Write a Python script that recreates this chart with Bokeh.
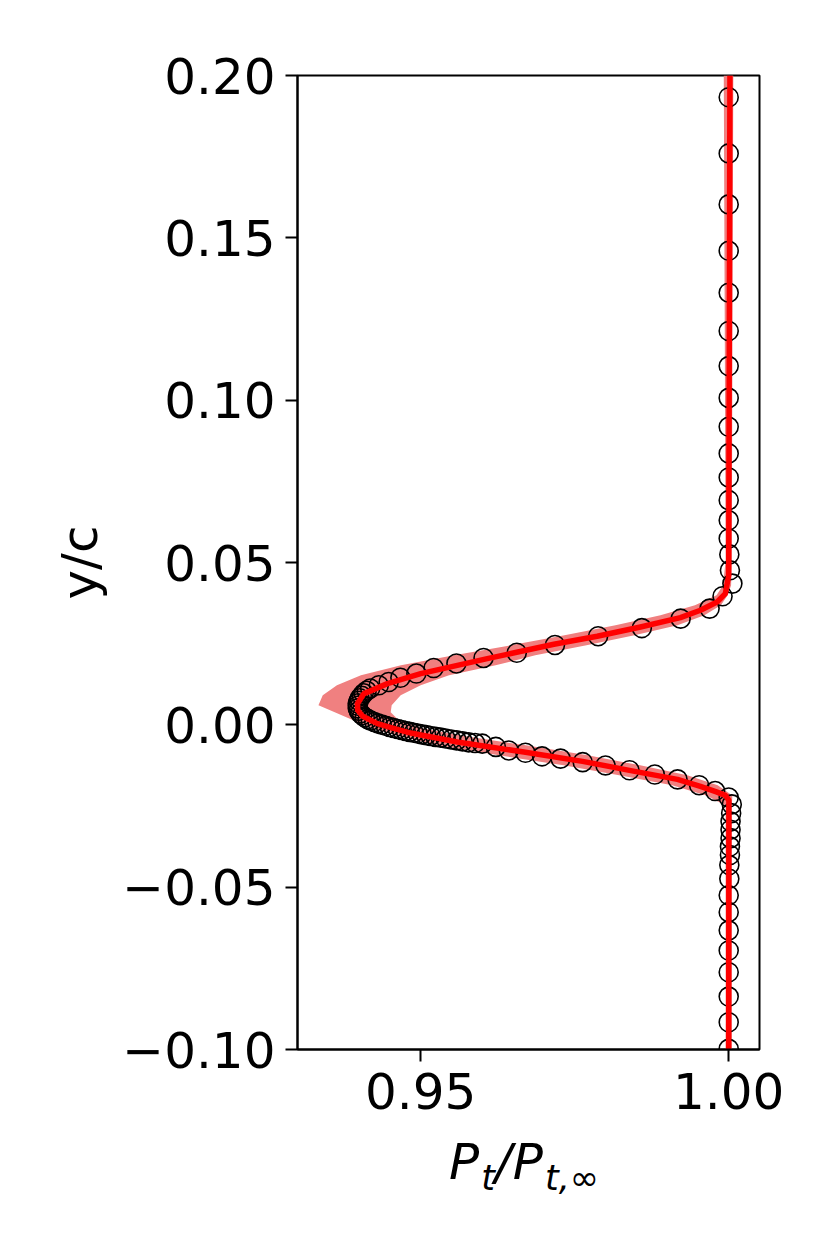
from bokeh.plotting import figure
from bokeh.models import Range1d, FixedTicker, CustomJSTickFormatter, Div
from bokeh.layouts import column
from bokeh.embed import file_html
from bokeh.resources import INLINE

# ---- data ----
# experimental points (open circles)
exp_x = [1.0, 1.0, 1.0, 1.0, 1.0, 1.0, 1.0, 1.0, 1.0, 1.0, 1.0, 1.0, 1.0, 1.0, 1.0001, 1.0002,
         1.0006, 0.9990, 0.9969, 0.9922, 0.9859, 0.9788, 0.9718, 0.9656, 0.9602, 0.9558, 0.9521,
         0.9493, 0.9467, 0.9448, 0.9432, 0.9418,
         0.94124, 0.94075, 0.94043, 0.94010, 0.93994, 0.93978, 0.93978, 0.93978, 0.93994, 0.94018,
         0.94051, 0.94091, 0.94140, 0.94189, 0.94246, 0.94302, 0.94367, 0.94432, 0.94497, 0.94562,
         0.94627, 0.94692, 0.94756, 0.94821, 0.94886, 0.94951, 0.95016, 0.95089, 0.95162, 0.95243,
         0.95324, 0.95405, 0.95494, 0.95584, 0.95681, 0.95778, 0.95884,
         0.9600, 0.9622, 0.9643, 0.9670, 0.9697, 0.9727, 0.9763, 0.9800, 0.9839, 0.9880, 0.9917,
         0.9952, 0.9978, 1.0000, 1.0005,
         1.0004, 1.0003, 1.0003, 1.0003, 1.0002, 1.0002, 1.0001, 1.0001, 1.0, 1.0, 1.0, 1.0, 1.0,
         1.0, 1.0, 1.0]
exp_y = [0.1933, 0.1760, 0.1603, 0.1460, 0.1331, 0.1213, 0.1105, 0.1007, 0.0918, 0.0836, 0.0762,
         0.0692, 0.0630, 0.0574, 0.0525, 0.0476,
         0.0435, 0.0396, 0.0358, 0.0327, 0.0298, 0.0273, 0.0246, 0.0222, 0.0206, 0.0189, 0.0175,
         0.0158, 0.0145, 0.0132, 0.0122, 0.0112,
         0.01048, 0.00971, 0.00894, 0.00817, 0.00740, 0.00663, 0.00586, 0.00508, 0.00431, 0.00354,
         0.00293, 0.00231, 0.00176, 0.00129, 0.00086, 0.00046, 0.00006, -0.00031, -0.00065, -0.00099,
         -0.00129, -0.00160, -0.00188, -0.00216, -0.00243, -0.00268, -0.00293, -0.00317, -0.00342,
         -0.00370, -0.00394, -0.00422, -0.00450, -0.00478, -0.00509, -0.00539, -0.00561,
         -0.0058, -0.0068, -0.0079, -0.0086, -0.0097, -0.0104, -0.0115, -0.0125, -0.0140, -0.0153,
         -0.0168, -0.0186, -0.0204, -0.0224, -0.0245,
         -0.0272, -0.0298, -0.0323, -0.0349, -0.0375, -0.0401, -0.0432, -0.0474, -0.0525, -0.0577,
         -0.0633, -0.0695, -0.0762, -0.0837, -0.0916, -0.0998]

# mean prediction (red line)
line_x = [1.0002, 1.0, 0.99946, 0.99811, 0.99541, 0.99216, 0.98568, 0.97865, 0.97162, 0.96081,
          0.95000, 0.94460, 0.94080, 0.93973, 0.93978, 0.94059, 0.94297, 0.94562, 0.94838, 0.95595,
          0.96675, 0.97627, 0.98389, 0.99168, 0.99541, 0.99800, 0.99946, 1.00003, 1.0]
line_y = [0.2, 0.04607, 0.04043, 0.03784, 0.03529, 0.03303, 0.03014, 0.02727, 0.02481, 0.02040,
          0.01578, 0.01270, 0.00962, 0.00653, 0.00447, 0.00262, 0.00037, -0.00108, -0.00253, -0.00530,
          -0.00838, -0.01125, -0.01402, -0.01680, -0.01895, -0.02065, -0.02173, -0.02327, -0.1]

# uncertainty band (light red)
band_y = [0.2, 0.05070, 0.04299, 0.03991, 0.03683, 0.03374, 0.03066, 0.02758, 0.02450, 0.02142,
          0.01834, 0.01525, 0.01217, 0.00909, 0.00601, 0.00385, 0.00139, -0.00108, -0.00324,
          -0.00632, -0.00940, -0.01248, -0.01556, -0.01864, -0.02173, -0.02481, -0.1]
band_lo = [0.99920, 0.99950, 0.99909, 0.99802, 0.99452, 0.98892, 0.98162, 0.97335, 0.96460, 0.95540,
           0.94680, 0.94030, 0.93640, 0.93410, 0.93340, 0.93605, 0.93905, 0.94221, 0.94594,
           0.95283, 0.96270, 0.97319, 0.98221, 0.99082, 0.99635, 0.99950, 0.99950]
band_hi = [1.00075, 1.00050, 1.00039, 0.99983, 0.99872, 0.99606, 0.99168, 0.98470, 0.97692, 0.96860,
           0.96216, 0.95460, 0.95000, 0.94675, 0.94529, 0.94513, 0.94643, 0.95031, 0.95627,
           0.96706, 0.97711, 0.98563, 0.99328, 0.99821, 1.00060, 1.00050, 1.00050]

x_ticks = [0.95, 1.00]
y_ticks = [-0.10, -0.05, 0.00, 0.05, 0.10, 0.15, 0.20]

FONT = "DejaVu Sans"
LEFT, FRAME_W, RIGHT = 297, 462, 40
TOP, FRAME_H, BOTTOM = 75, 974, 84
TOTAL_W = LEFT + FRAME_W + RIGHT

p = figure(frame_width=FRAME_W, frame_height=FRAME_H,
           min_border_left=LEFT, min_border_right=RIGHT, min_border_top=TOP, min_border_bottom=BOTTOM,
           x_range=Range1d(0.93, 1.005), y_range=Range1d(-0.10, 0.20),
           output_backend="svg", toolbar_location=None)
p.background_fill_color = "white"
p.border_fill_color = "white"
p.grid.visible = False
p.outline_line_color = "black"
p.outline_line_width = 2
p.outline_line_alpha = 1

p.harea(y=band_y, x1=band_lo, x2=band_hi, fill_color="#f08080", fill_alpha=1.0)
p.scatter(exp_x, exp_y, marker="circle", size=19, fill_color=None,
          line_color="black", line_width=1.6)
p.line(line_x, line_y, line_color="red", line_width=5.5, line_join="round")

fmt = CustomJSTickFormatter(code="return tick.toFixed(2).replace('-', '\\u2212');")
for ax, ticks in ((p.xaxis[0], x_ticks), (p.yaxis[0], y_ticks)):
    ax.ticker = FixedTicker(ticks=ticks)
    ax.formatter = fmt
    ax.minor_tick_line_color = None
    ax.major_tick_in = 0
    ax.major_tick_out = 12
    ax.major_tick_line_width = 2
    ax.major_tick_line_color = "black"
    ax.axis_line_width = 2
    ax.axis_line_color = "black"
    ax.major_label_text_font = FONT
    ax.major_label_text_font_size = "50px"
    ax.major_label_text_color = "black"
    ax.axis_label_text_font = FONT
    ax.axis_label_text_font_size = "50px"
    ax.axis_label_text_font_style = "normal"
    ax.axis_label_text_color = "black"

p.yaxis[0].major_label_standoff = 10
p.yaxis[0].axis_label = "y/c"
p.yaxis[0].axis_label_standoff = 10
p.xaxis[0].major_label_standoff = 11
p.xaxis[0].axis_label_standoff = 0

# x-axis title P_t / P_{t,inf} as HTML text (real text, with subscripts) below the plot
sub_style = "font-style:italic;font-size:35px;position:relative;top:11px;margin-left:2px;"
it = "font-style:italic;"
label_html = (
    f'<div style="padding-left:449px;white-space:nowrap;">'
    f'<span style="{it}">P</span><span style="{sub_style}">t</span>'
    f'<span style="{it}">/</span>'
    f'<span style="{it}margin-left:1px;">P</span><span style="{sub_style}">t,\u221e</span>'
    f'</div>'
)
xlabel = Div(text=label_html, width=TOTAL_W, height=90, margin=0,
             styles={"font-family": FONT, "font-size": "50px", "color": "black",
                     "line-height": "58px"})

open("out.html", "w").write(file_html(column(p, xlabel), INLINE))
